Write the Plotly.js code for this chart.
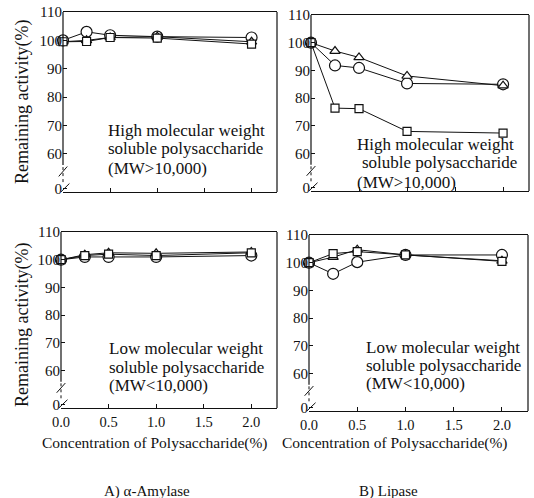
<!DOCTYPE html>
<html>
<head>
<meta charset="utf-8">
<script src="https://cdn.plot.ly/plotly-3.0.1.min.js"></script>
<style>html,body{margin:0;padding:0;background:#fff;}#chart{width:534px;height:498px;}</style>
</head>
<body>
<div id="chart"></div>
<script>
// ---- data ----
const conc = [0, 0.25, 0.5, 1.0, 2.0];

const amyHighCircle   = [100, 103.0, 101.8, 101.3, 101.0];
const amyHighTriangle = [99.5, 100.0, 101.0, 101.3, 99.5];
const amyHighSquare   = [99.5, 99.6, 101.0, 100.8, 98.7];

const lipHighCircle   = [100, 91.8, 90.9, 85.3, 85.0];
const lipHighTriangle = [100, 97.0, 94.7, 88.0, 84.5];
const lipHighSquare   = [100, 76.4, 76.2, 68.0, 67.4];

const amyLowCircle    = [100, 101.0, 101.0, 101.0, 101.5];
const amyLowTriangle  = [100, 101.8, 102.5, 102.3, 102.8];
const amyLowSquare    = [100, 101.5, 102.0, 101.5, 102.5];

const lipLowCircle    = [100, 96.0, 100.2, 102.8, 102.8];
const lipLowTriangle  = [100, 102.0, 104.7, 102.8, 100.7];
const lipLowSquare    = [100, 103.3, 104.0, 102.8, 100.5];

const yTickVals = [47.6, 60, 70, 80, 90, 100, 110];
const yTickText = ['0', '60', '70', '80', '90', '100', '110'];
const xTickVals = [0, 0.5, 1.0, 1.5, 2.0];
const xTickText = ['0.0', '0.5', '1.0', '1.5', '2.0'];

const highLines = ['High molecular weight', 'soluble polysaccharide', '(MW>10,000)'];
const lowLines  = ['Low molecular weight', 'soluble polysaccharide', '(MW<10,000)'];
const yTitle = 'Remaining activity(%)';
const xTitle = 'Concentration of Polysaccharide(%)';
const captions = ['A) α-Amylase', 'B) Lipase'];

// ---- layout helpers ----
const W = 534, H = 498;
const px = v => v / W;
const py = v => (H - v) / H;
const FONT = 'Liberation Serif';

const panels = [
  {ax: '', sets: [amyHighCircle, amyHighTriangle, amyHighSquare], xd: [63, 277], yd: [12, 192], xlabels: false},
  {ax: '2', sets: [lipHighCircle, lipHighTriangle, lipHighSquare], xd: [311, 529], yd: [15, 191], xlabels: false},
  {ax: '3', sets: [amyLowCircle, amyLowTriangle, amyLowSquare], xd: [61, 277], yd: [232, 408], xlabels: true},
  {ax: '4', sets: [lipLowCircle, lipLowTriangle, lipLowSquare], xd: [309, 528], yd: [235, 411], xlabels: true}
];
const symbols = ['circle', 'triangle-up', 'square'];
const sizes = [11, 9, 8];
const names = ['circle series', 'triangle series', 'square series'];

const traces = [];
const layout = {
  width: W, height: H,
  margin: {l: 0, r: 0, t: 0, b: 0},
  paper_bgcolor: '#fff', plot_bgcolor: 'rgba(0,0,0,0)',
  showlegend: false,
  font: {family: FONT, color: '#111', size: 14},
  shapes: [], annotations: []
};

panels.forEach((p, i) => {
  const xa = 'x' + p.ax, ya = 'y' + p.ax;
  p.sets.forEach((vals, k) => {
    traces.push({
      x: conc, y: vals, xaxis: xa, yaxis: ya, name: names[k],
      type: 'scatter', mode: 'lines+markers', cliponaxis: false,
      line: {color: '#111', width: 1},
      marker: {symbol: symbols[k], size: sizes[k], color: '#fff', line: {color: '#111', width: 1.2}}
    });
  });
  layout['xaxis' + p.ax] = {
    domain: [px(p.xd[0]), px(p.xd[1])], anchor: ya, range: [0, 2.27],
    showline: true, mirror: true, linecolor: '#111', linewidth: 1.2,
    ticks: 'inside', ticklen: 4, tickcolor: '#111',
    tickvals: xTickVals, ticktext: xTickText, showticklabels: p.xlabels,
    tickfont: {family: FONT, size: 14.5, color: '#111'},
    showgrid: false, zeroline: false, fixedrange: true
  };
  layout['yaxis' + p.ax] = {
    domain: [py(p.yd[1]), py(p.yd[0])], anchor: xa, range: [46.5, 110],
    showline: false, ticks: 'inside', ticklen: 4, tickcolor: '#111',
    tickvals: yTickVals, ticktext: yTickText,
    tickfont: {family: FONT, size: 15, color: '#111'},
    showgrid: false, zeroline: false, fixedrange: true
  };
  const xd = 'x' + p.ax + ' domain';
  layout.shapes.push({type: 'line', xref: xd, yref: ya, x0: 0, x1: 0, y0: 56, y1: 110, line: {color: '#111', width: 1.2}});
  layout.shapes.push({type: 'line', xref: xd, yref: ya, x0: 0, x1: 0, y0: 50, y1: 56, line: {color: '#111', width: 1, dash: 'dot'}});
  layout.shapes.push({type: 'line', xref: xd, yref: ya, x0: 1, x1: 1, y0: 46.5, y1: 110, line: {color: '#111', width: 1.2}});
  layout.shapes.push({type: 'line', xref: xd, yref: ya, x0: -0.02, x1: 0.02, y0: 52, y1: 55.5, line: {color: '#111', width: 1}});
  layout.shapes.push({type: 'line', xref: xd, yref: ya, x0: -0.01, x1: 0.03, y0: 46.5, y1: 49.5, line: {color: '#111', width: 1}});
});

const textPos = [
  {lines: highLines, x: [106, 106, 106], y: [130, 149, 168]},
  {lines: highLines, x: [355, 360, 355], y: [145, 163, 182]},
  {lines: lowLines, x: [107, 107, 107], y: [348, 367, 385]},
  {lines: lowLines, x: [364, 364, 364], y: [347, 365, 383]}
];
textPos.forEach(t => {
  t.lines.forEach((s, j) => {
    layout.annotations.push({
      text: s, xref: 'paper', yref: 'paper', x: px(t.x[j]), y: py(t.y[j]),
      xanchor: 'left', yanchor: 'middle', showarrow: false,
      font: {family: FONT, size: 17, color: '#111'}
    });
  });
});

[102, 325].forEach(yc => {
  layout.annotations.push({
    text: yTitle, xref: 'paper', yref: 'paper', x: px(22), y: py(yc),
    xanchor: 'center', yanchor: 'middle', textangle: -90, showarrow: false,
    font: {family: FONT, size: 18, color: '#111'}
  });
});
[155, 395].forEach(xc => {
  layout.annotations.push({
    text: xTitle, xref: 'paper', yref: 'paper', x: px(xc), y: py(443),
    xanchor: 'center', yanchor: 'middle', showarrow: false,
    font: {family: FONT, size: 15.5, color: '#111'}
  });
});
[[147, captions[0]], [388, captions[1]]].forEach(([xc, s]) => {
  layout.annotations.push({
    text: s, xref: 'paper', yref: 'paper', x: px(xc), y: py(491),
    xanchor: 'center', yanchor: 'middle', showarrow: false,
    font: {family: FONT, size: 15, color: '#111'}
  });
});

Plotly.newPlot('chart', traces, layout, {staticPlot: true, displayModeBar: false});
</script>
</body>
</html>
